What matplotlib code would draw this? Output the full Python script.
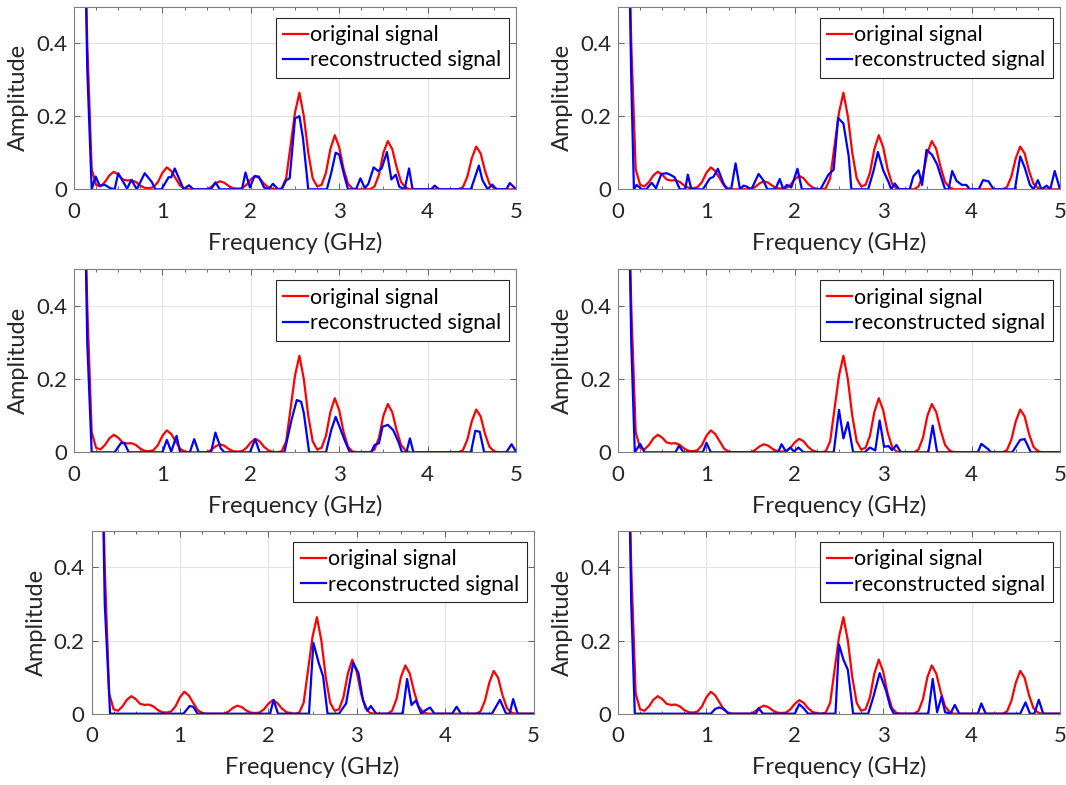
import numpy as np
import matplotlib
matplotlib.use("Agg")
import matplotlib.pyplot as plt
from matplotlib.ticker import MultipleLocator

plt.rcParams['font.family'] = ['Lato', 'DejaVu Sans']

# original spectrum (same in every panel)
f_orig = [0.10, 0.15, 0.20, 0.25, 0.30, 0.35, 0.40, 0.45, 0.50, 0.55, 0.60, 0.65, 0.70,
          0.75, 0.80, 0.85, 0.90, 0.95, 1.00, 1.05, 1.10, 1.15, 1.20, 1.25, 1.30, 1.50,
          1.55, 1.60, 1.65, 1.70, 1.75, 1.80, 1.85, 1.90, 1.95, 2.00, 2.05, 2.10, 2.15,
          2.20, 2.25, 2.30, 2.35, 2.40, 2.45, 2.50, 2.55, 2.60, 2.65, 2.70, 2.75, 2.80,
          2.85, 2.90, 2.95, 3.00, 3.05, 3.10, 3.15, 3.20, 3.35, 3.40, 3.45, 3.50, 3.55,
          3.60, 3.65, 3.70, 3.75, 3.80, 4.35, 4.40, 4.45, 4.50, 4.55, 4.60, 4.65, 4.70,
          4.75, 4.80, 5.00]
a_orig = [0.95, 0.40, 0.055, 0.012, 0.008, 0.02, 0.038, 0.048, 0.04, 0.027, 0.024, 0.025, 0.02,
          0.01, 0.004, 0.003, 0.006, 0.02, 0.045, 0.06, 0.05, 0.03, 0.01, 0.002, 0.0, 0.0,
          0.006, 0.016, 0.022, 0.018, 0.009, 0.003, 0.002, 0.003, 0.012, 0.027, 0.037, 0.03, 0.015,
          0.005, 0.001, 0.0, 0.003, 0.03, 0.12, 0.21, 0.264, 0.2, 0.1, 0.03, 0.008, 0.012,
          0.045, 0.11, 0.148, 0.115, 0.055, 0.015, 0.002, 0.0, 0.0, 0.008, 0.04, 0.1, 0.132,
          0.11, 0.06, 0.02, 0.005, 0.0, 0.0, 0.006, 0.035, 0.085, 0.117, 0.098, 0.05, 0.015,
          0.003, 0.0, 0.0]

# reconstructed spectra, one per panel
f_rec1 = [0.10, 0.15, 0.20, 0.245, 0.29, 0.35, 0.41, 0.46, 0.50, 0.60, 0.65, 0.71, 0.80,
          0.88, 0.92, 0.99, 1.07, 1.10, 1.14, 1.24, 1.30, 1.35, 1.55, 1.60, 1.65, 1.90,
          1.94, 1.99, 2.04, 2.09, 2.15, 2.20, 2.25, 2.31, 2.35, 2.40, 2.44, 2.50, 2.55,
          2.59, 2.65, 2.86, 2.91, 2.96, 3.00, 3.06, 3.10, 3.19, 3.24, 3.29, 3.33, 3.39,
          3.44, 3.48, 3.54, 3.59, 3.64, 3.68, 3.74, 3.79, 3.83, 4.04, 4.08, 4.13, 4.49,
          4.58, 4.62, 4.68, 4.73, 4.78, 4.89, 4.93, 4.98, 5.00]
a_rec1 = [1.0, 0.33, 0.0, 0.035, 0.01, 0.012, 0.003, 0.0, 0.044, 0.002, 0.026, 0.0, 0.044,
          0.02, 0.0, 0.0, 0.033, 0.033, 0.057, 0.0, 0.011, 0.0, 0.0, 0.019, 0.0, 0.0,
          0.046, 0.005, 0.035, 0.035, 0.005, 0.0, 0.015, 0.0, 0.0, 0.025, 0.03, 0.194, 0.2,
          0.14, 0.0, 0.0, 0.045, 0.1, 0.095, 0.035, 0.0, 0.0, 0.03, 0.003, 0.015, 0.06,
          0.05, 0.057, 0.102, 0.027, 0.04, 0.007, 0.0, 0.057, 0.0, 0.0, 0.01, 0.0, 0.0,
          0.065, 0.025, 0.0, 0.013, 0.0, 0.0, 0.017, 0.005, 0.0]

f_rec2 = [0.10, 0.15, 0.18, 0.21, 0.27, 0.32, 0.38, 0.43, 0.49, 0.55, 0.59, 0.64, 0.70,
          0.76, 0.79, 0.83, 0.96, 1.04, 1.08, 1.13, 1.19, 1.23, 1.28, 1.33, 1.38, 1.42,
          1.45, 1.51, 1.59, 1.64, 1.69, 1.78, 1.83, 1.87, 1.91, 1.96, 2.03, 2.08, 2.29,
          2.38, 2.44, 2.49, 2.55, 2.61, 2.64, 2.83, 2.89, 2.94, 3.00, 3.06, 3.09, 3.13,
          3.18, 3.30, 3.34, 3.40, 3.44, 3.49, 3.55, 3.61, 3.66, 3.70, 3.74, 3.78, 3.83,
          3.89, 3.94, 3.98, 4.08, 4.13, 4.19, 4.25, 4.49, 4.55, 4.60, 4.66, 4.70, 4.75,
          4.79, 4.85, 4.89, 4.94, 5.00]
a_rec2 = [1.0, 0.3, 0.0, 0.012, 0.0, 0.0, 0.018, 0.003, 0.042, 0.044, 0.04, 0.033, 0.0,
          0.0, 0.04, 0.0, 0.0, 0.03, 0.034, 0.056, 0.018, 0.0, 0.0, 0.071, 0.0, 0.01,
          0.008, 0.0, 0.042, 0.026, 0.0, 0.0, 0.028, 0.0, 0.012, 0.005, 0.056, 0.0, 0.0,
          0.04, 0.054, 0.195, 0.18, 0.09, 0.0, 0.0, 0.05, 0.102, 0.052, 0.02, 0.0, 0.016,
          0.0, 0.0, 0.035, 0.052, 0.012, 0.108, 0.095, 0.068, 0.03, 0.0, 0.0, 0.05, 0.023,
          0.012, 0.012, 0.0, 0.0, 0.025, 0.022, 0.0, 0.0, 0.09, 0.06, 0.012, 0.0, 0.025,
          0.0, 0.01, 0.0, 0.05, 0.0]

f_rec3 = [0.10, 0.15, 0.20, 0.46, 0.53, 0.57, 0.62, 1.00, 1.05, 1.10, 1.16, 1.20, 1.31,
          1.36, 1.41, 1.55, 1.60, 1.66, 1.70, 1.99, 2.05, 2.10, 2.38, 2.46, 2.52, 2.57,
          2.60, 2.66, 2.85, 2.91, 2.96, 3.01, 3.06, 3.12, 3.36, 3.40, 3.45, 3.49, 3.55,
          3.61, 3.67, 3.71, 3.76, 3.80, 3.84, 4.49, 4.54, 4.59, 4.64, 4.89, 4.95, 5.00]
a_rec3 = [1.0, 0.3, 0.0, 0.0, 0.025, 0.025, 0.0, 0.0, 0.034, 0.002, 0.045, 0.0, 0.0,
          0.036, 0.0, 0.0, 0.054, 0.011, 0.0, 0.0, 0.036, 0.0, 0.0, 0.088, 0.143, 0.138,
          0.107, 0.0, 0.0, 0.061, 0.097, 0.066, 0.034, 0.0, 0.0, 0.02, 0.025, 0.07, 0.075,
          0.061, 0.029, 0.0, 0.0, 0.038, 0.0, 0.0, 0.059, 0.056, 0.0, 0.0, 0.022, 0.002]

f_rec4 = [0.10, 0.15, 0.19, 0.25, 0.30, 0.65, 0.69, 0.74, 0.96, 1.00, 1.05, 1.81, 1.85,
          1.90, 1.95, 1.99, 2.04, 2.10, 2.44, 2.50, 2.55, 2.60, 2.66, 2.79, 2.85, 2.91,
          2.96, 3.01, 3.06, 3.10, 3.15, 3.20, 3.51, 3.56, 3.61, 4.07, 4.11, 4.19, 4.22,
          4.46, 4.55, 4.60, 4.67, 5.00]
a_rec4 = [1.0, 0.3, 0.0, 0.023, 0.0, 0.0, 0.018, 0.0, 0.0, 0.026, 0.0, 0.0, 0.022,
          0.002, 0.013, 0.002, 0.013, 0.0, 0.0, 0.116, 0.038, 0.082, 0.0, 0.0, 0.013, 0.005,
          0.087, 0.015, 0.017, 0.006, 0.02, 0.0, 0.0, 0.073, 0.0, 0.0, 0.023, 0.008, 0.0,
          0.0, 0.034, 0.036, 0.0, 0.0]

f_rec5 = [0.10, 0.15, 0.21, 1.04, 1.11, 1.15, 1.20, 2.02, 2.06, 2.11, 2.46, 2.51, 2.57,
          2.62, 2.67, 2.80, 2.88, 2.96, 3.02, 3.07, 3.12, 3.16, 3.22, 3.52, 3.57, 3.62,
          3.67, 3.73, 3.78, 3.83, 3.88, 4.08, 4.13, 4.18, 4.53, 4.62, 4.69, 4.73, 4.77,
          4.82, 5.00]
a_rec5 = [1.0, 0.3, 0.0, 0.0, 0.021, 0.019, 0.0, 0.0, 0.038, 0.0, 0.0, 0.194, 0.139,
          0.102, 0.0, 0.0, 0.028, 0.139, 0.111, 0.038, 0.008, 0.021, 0.0, 0.0, 0.095, 0.024,
          0.036, 0.0, 0.01, 0.017, 0.0, 0.0, 0.019, 0.0, 0.0, 0.038, 0.0, 0.0, 0.04,
          0.0, 0.0]

f_rec6 = [0.10, 0.15, 0.19, 1.05, 1.10, 1.14, 1.20, 1.25, 1.56, 1.59, 1.64, 2.00, 2.05,
          2.10, 2.15, 2.46, 2.50, 2.55, 2.60, 2.66, 2.83, 2.89, 2.96, 3.03, 3.08, 3.12,
          3.51, 3.56, 3.61, 3.66, 3.70, 3.76, 3.81, 3.86, 4.07, 4.11, 4.16, 4.55, 4.61,
          4.66, 4.71, 4.76, 4.81, 5.00]
a_rec6 = [1.0, 0.3, 0.0, 0.0, 0.013, 0.017, 0.013, 0.0, 0.0, 0.015, 0.0, 0.0, 0.026,
          0.015, 0.0, 0.0, 0.189, 0.148, 0.12, 0.0, 0.0, 0.047, 0.111, 0.065, 0.019, 0.0,
          0.0, 0.095, 0.004, 0.047, 0.004, 0.0, 0.024, 0.0, 0.0, 0.028, 0.0, 0.0, 0.031,
          0.0, 0.0, 0.038, 0.0, 0.0]

rec_f = [f_rec1, f_rec2, f_rec3, f_rec4, f_rec5, f_rec6]
rec_a = [a_rec1, a_rec2, a_rec3, a_rec4, a_rec5, a_rec6]

W, H = 1066, 785
# axes boxes in pixels: left edge, y of the x-axis (from top)
lefts = [74, 618, 74, 618, 91.5, 618]
bottoms = [189.3, 189.3, 452.3, 452.3, 713.7, 713.7]
aw, ah = 442, 182.8

fig = plt.figure(figsize=(W / 100, H / 100), dpi=100)
txt = '#262626'

for i in range(6):
    ax = fig.add_axes([lefts[i] / W, 1 - bottoms[i] / H, aw / W, ah / H])
    ax.plot(f_orig, a_orig, color='red', lw=1.6, label='original signal')
    ax.plot(rec_f[i], rec_a[i], color='blue', lw=1.6, label='reconstructed signal')
    ax.set_xlim(0, 5)
    ax.set_ylim(0, 0.5)
    ax.set_xticks([0, 1, 2, 3, 4, 5])
    ax.set_xticklabels(['0', '1', '2', '3', '4', '5'])
    ax.set_yticks([0, 0.2, 0.4])
    ax.set_yticklabels(['0', '0.2', '0.4'])
    ax.xaxis.set_minor_locator(MultipleLocator(0.25))
    ax.grid(True, color='#e3e3e3', lw=0.8)
    ax.set_axisbelow(True)
    ax.tick_params(which='both', direction='in', top=True, right=True,
                   labelsize=16, colors='#4d4d4d', labelcolor=txt, width=0.6)
    ax.tick_params(which='major', length=4)
    ax.tick_params(which='minor', length=2)
    ax.tick_params(axis='x', which='major', pad=9)
    ax.tick_params(axis='y', which='major', pad=5)
    for s in ax.spines.values():
        s.set_color('#7f7f7f')
        s.set_linewidth(0.8)
    ax.set_xlabel('Frequency (GHz)', fontsize=17, color=txt, labelpad=7)
    ax.set_ylabel('Amplitude', fontsize=17, color=txt, labelpad=5)
    leg = ax.legend(loc='upper right', bbox_to_anchor=(1 - 7 / aw, 1 - 11 / ah),
                    borderaxespad=0, fontsize=15.5, fancybox=False, framealpha=1,
                    edgecolor='#262626', handlelength=1.15, handletextpad=0.1,
                    labelspacing=0.25, borderpad=0.35)
    leg.get_frame().set_linewidth(0.8)
    for t in leg.get_texts():
        t.set_color('black')

fig.savefig('out.png', dpi=100)
